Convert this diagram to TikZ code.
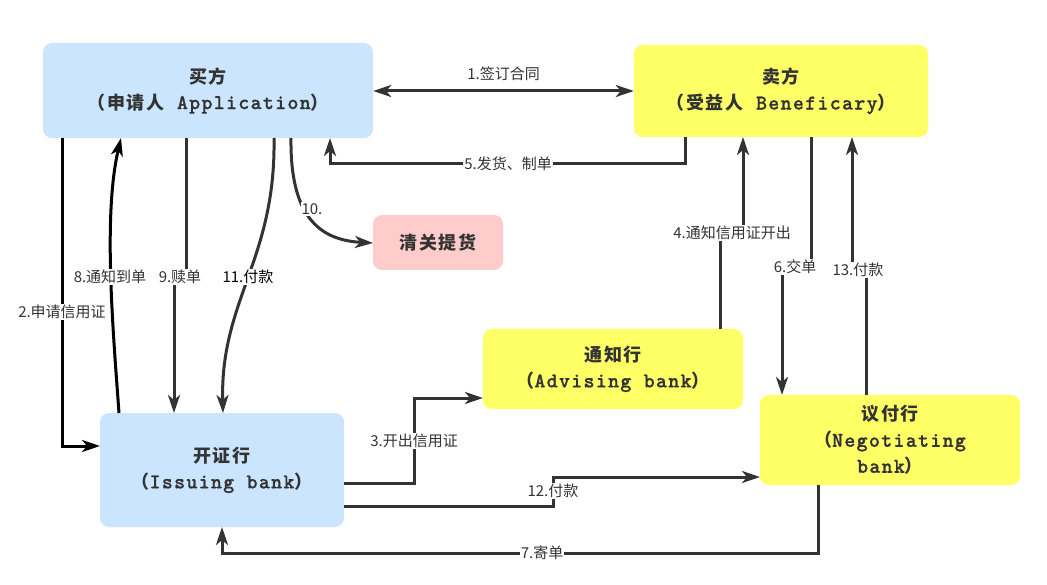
\documentclass[tikz,border=0pt]{standalone}
\usepackage{fontspec}
\setmainfont{Noto Sans CJK SC}
\newfontfamily\cjk{Noto Sans CJK SC}
\newfontfamily\cjkbox{Noto Sans CJK SC}[LetterSpace=10]
\newfontfamily\monob{lmmonolt10-bold}[Extension=.otf,LetterSpace=6,FakeBold=0.8]
\usetikzlibrary{arrows.meta}
\definecolor{lblue}{HTML}{CCE5FF}
\definecolor{lyellow}{HTML}{FFFF66}
\definecolor{lpink}{HTML}{FFCCCC}
\definecolor{dgray}{HTML}{333333}
\newcommand{\mn}[1]{{\monob\fontsize{21}{26}\selectfont #1}}
\begin{document}
\begin{tikzpicture}[x=1pt,y=-1pt,
  box/.style={rounded corners=9pt,draw=none,inner sep=0pt,align=center,text=dgray,
    font=\cjkbox\bfseries\fontsize{18}{26}\selectfont},
  lbl/.style={fill=white,inner sep=1pt,text=dgray,font=\cjk\fontsize{15}{17}\selectfont},
  conn/.style={line width=3pt,draw=dgray},
  bconn/.style={line width=3pt,draw=black},
  arr/.style={-{Stealth[length=18pt,width=12pt,inset=5pt]}},
  arrb/.style={{Stealth[length=18pt,width=12pt,inset=5pt]}-{Stealth[length=18pt,width=12pt,inset=5pt]}}
]
\useasboundingbox (0,0) rectangle (1047,585);
\fill[white] (0,0) rectangle (1047,585);

% boxes
\node[box,fill=lblue,minimum width=330pt,minimum height=95pt] (buyer) at (208,90.5)
  {买方\\（申请人\mn{ Application}）};
\node[box,fill=lyellow,minimum width=294pt,minimum height=92pt] (seller) at (781,91)
  {卖方\\（受益人\mn{ Beneficary}）};
\node[box,fill=lpink,minimum width=130pt,minimum height=55pt] (customs) at (438,242.5)
  {清关提货};
\node[box,fill=lblue,minimum width=244pt,minimum height=114pt] (issuing) at (222,470)
  {开证行\\（\mn{Issuing bank}）};
\node[box,fill=lyellow,minimum width=260pt,minimum height=80pt] (advising) at (613,369)
  {通知行\\（\mn{Advising bank}）};
\node[box,fill=lyellow,minimum width=260pt,minimum height=90pt] (nego) at (890,440)
  {议付行\\（\mn{Negotiating}\\\mn{bank}）};

% coordinates
\coordinate (b2) at (62,138);
\coordinate (b8) at (121,138);
\coordinate (b9) at (186,138);
\coordinate (b11) at (274,138);
\coordinate (b10) at (291,138);
\coordinate (b5) at (330,138);
\coordinate (i2) at (100,446);
\coordinate (i8) at (119,413);
\coordinate (i9) at (174,413);
\coordinate (i11) at (223,413);
\coordinate (i3) at (344,483);
\coordinate (i12) at (344,506);
\coordinate (i7) at (222,527);
\coordinate (s5) at (685,137);
\coordinate (s4) at (743,137);
\coordinate (s6) at (811,137);
\coordinate (s13) at (852,137);
\coordinate (a4) at (720,329);
\coordinate (a3) at (483,398);
\coordinate (n6) at (782,395);
\coordinate (n13) at (866,395);
\coordinate (n12) at (760,477);
\coordinate (n7) at (818,485);
\coordinate (c10) at (373,243);

% 1
\draw[conn,arrb] (buyer.east |- 0,91) -- (seller.west |- 0,91)
  node[midway,above=8pt,lbl,fill=none] {1.签订合同};
% 2
\draw[bconn,arr] (b2) -- (62,446) -- (i2);
\node[lbl] at (62,312) {2.申请信用证};
% 8
\draw[bconn,arr] (i8) .. controls (113,330) and (103,215) .. (b8);
\node[lbl] at (110,277) {8.通知到单};
% 9
\draw[conn,arr] (b9) -- (186,277) -- (174,277) -- (i9);
\node[lbl] at (180,277) {9.赎单};
% 11
\draw[conn,arr] (b11) .. controls (276,260) and (220,300) .. (i11);
\node[lbl,text=black] at (248,277) {11.付款};
% 10
\draw[conn,arr] (b10) .. controls (290,215) and (318,240) .. (c10);
\node[lbl] at (312,209) {10.};
% 5
\draw[conn,arr] (s5) -- (685,164) -- (330,164) -- (b5);
\node[lbl] at (508,164) {5.发货、制单};
% 4
\draw[conn,arr] (a4) -- (720,233) -- (743,233) -- (s4);
\node[lbl] at (732,233) {4.通知信用证开出};
% 6
\draw[conn,arr] (s6) -- (811,267) -- (782,267) -- (n6);
\node[lbl] at (795,267) {6.交单};
% 13
\draw[conn,arr] (n13) -- (866,270) -- (852,270) -- (s13);
\node[lbl] at (858,270) {13.付款};
% 3
\draw[conn,arr] (i3) -- (414,483) -- (414,398) -- (a3);
\node[lbl] at (414,441) {3.开出信用证};
% 12
\draw[conn,arr] (i12) -- (553,506) -- (553,477) -- (n12);
\node[lbl] at (553,491) {12.付款};
% 7
\draw[conn,arr] (n7) -- (818,553) -- (222,553) -- (i7);
\node[lbl] at (542,553) {7.寄单};
\end{tikzpicture}
\end{document}
